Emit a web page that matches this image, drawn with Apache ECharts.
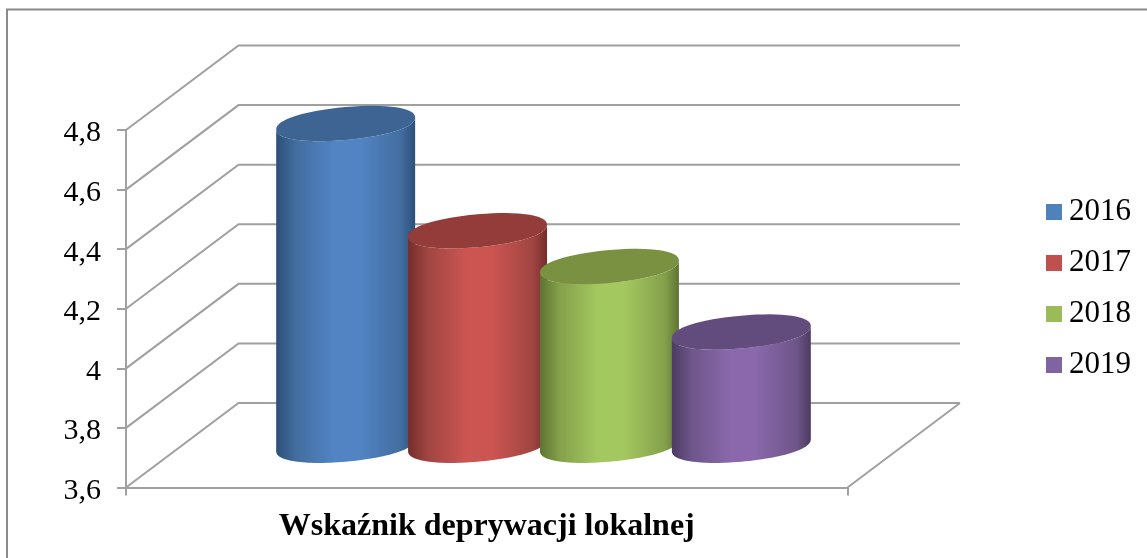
<!DOCTYPE html>
<html><head><meta charset="utf-8">
<style>html,body{margin:0;padding:0;background:#fff}#c{width:1147px;height:558px}</style>
<script src="https://cdn.jsdelivr.net/npm/echarts@6/dist/echarts.min.js"></script>
</head><body><div id="c"></div>
<script>
const categories = ['Wskaźnik deprywacji lokalnej'];
const years = ['2016', '2017', '2018', '2019'];
const values2016 = [4.68];
const values2017 = [4.32];
const values2018 = [4.20];
const values2019 = [3.98];
const allValues = [values2016, values2017, values2018, values2019];
const yTicks = [3.6, 3.8, 4.0, 4.2, 4.4, 4.6, 4.8];

const mainColors = ['#4f81bd', '#c0504d', '#9bbb59', '#8064a2'];
const brightColors = ['#5284c4', '#cc5551', '#a4c860', '#8a68ab'];
const midColors = ['#426d9f', '#a04542', '#84a04b', '#6d5589'];
const darkColors = ['#2d4f78', '#742d2b', '#5e7433', '#4c3b62'];
const topColors = ['#3d6492', '#933c39', '#799140', '#624c7e'];

const DEPTH_X = 112.5, DEPTH_Y = 84.5, GRID_COLOR = '#a0a0a0';

function spow(v, p) { return Math.sign(v) * Math.pow(Math.abs(v), p); }

function ellipsePts(cx, cy, a, b, s, from, to) {
  const pts = [], n = 64, p = 0.93;
  for (let i = 0; i <= n; i++) {
    const t = from + (to - from) * i / n;
    const c = spow(Math.cos(t), p), d = spow(Math.sin(t), p);
    pts.push([cx + a * c, cy + b * d - s * c]);
  }
  return pts;
}

function cylinder(i) {
  return function (params, api) {
    const band = api.size([1, 0])[0];
    const a = band * 0.0963, b = 16.4, s = 6;
    const top = api.coord([api.value(0), api.value(1)]);
    const base = api.coord([api.value(0), 3.6]);
    const cx = top[0] + DEPTH_X / 2 + 0.5 + (i - 1.5) * band * 0.1828;
    const topY = top[1] - DEPTH_Y / 2;
    const baseY = base[1] - DEPTH_Y / 2;
    const frontTop = ellipsePts(cx, topY, a, b, s, Math.PI, 0);
    const frontBase = ellipsePts(cx, baseY, a, b, s, 0, Math.PI);
    const fill = new echarts.graphic.LinearGradient(0, 0, 1, 0, [
      { offset: 0, color: darkColors[i] },
      { offset: 0.14, color: midColors[i] },
      { offset: 0.42, color: brightColors[i] },
      { offset: 0.6, color: brightColors[i] },
      { offset: 0.9, color: midColors[i] },
      { offset: 1, color: darkColors[i] }
    ]);
    return {
      type: 'group',
      children: [
        { type: 'polygon', shape: { points: frontTop.concat(frontBase) }, style: { fill: fill } },
        { type: 'polygon', shape: { points: ellipsePts(cx, topY, a, b, s, 0, Math.PI * 2) }, style: { fill: topColors[i] } }
      ]
    };
  };
}

function wallLines(params, api) {
  const band = api.size([1, 0])[0];
  const p = api.coord([0, api.value(0)]);
  const x0 = p[0] - band / 2, x1 = p[0] + band / 2, y = p[1];
  const line = { stroke: GRID_COLOR, lineWidth: 2, fill: null };
  const children = [{
    type: 'polyline',
    shape: { points: [[x0, y], [x0 + DEPTH_X, y - DEPTH_Y], [x1 + DEPTH_X, y - DEPTH_Y]] },
    style: line
  }];
  if (api.value(0) === yTicks[0]) {
    children.push({
      type: 'polyline',
      shape: { points: [[x1, y], [x1 + DEPTH_X, y - DEPTH_Y]] },
      style: line
    });
  }
  return { type: 'group', children: children };
}

const chart = echarts.init(document.getElementById('c'));
chart.setOption({
  animation: false,
  backgroundColor: '#fff',
  grid: { left: 126, right: 299.5, top: 130, bottom: 70.5, containLabel: false },
  graphic: [{
    type: 'polyline', silent: true,
    shape: { points: [[7, 558], [7, 9.5], [1147, 9.5]] },
    style: { stroke: '#8a8a8a', lineWidth: 2, fill: null }
  }],
  legend: {
    data: years, orient: 'vertical', left: 1041, top: 191.5,
    icon: 'rect', itemWidth: 16, itemHeight: 16, itemGap: 20,
    textStyle: { fontFamily: 'Liberation Serif', fontSize: 31, lineHeight: 31, color: '#000', padding: [0, 0, 0, 2] }
  },
  xAxis: {
    type: 'category', data: categories,
    axisLine: { lineStyle: { color: GRID_COLOR, width: 2 } },
    axisTick: { show: true, length: 8, lineStyle: { color: GRID_COLOR, width: 2 } },
    axisLabel: { fontFamily: 'Liberation Serif', fontWeight: 'bold', fontSize: 32, color: '#000', margin: 23 }
  },
  yAxis: {
    type: 'value', min: 3.6, max: 4.8, interval: 0.2,
    splitLine: { show: false },
    axisLine: { show: true, lineStyle: { color: GRID_COLOR, width: 2 } },
    axisTick: { show: true, length: 9, lineStyle: { color: GRID_COLOR, width: 2 } },
    axisLabel: {
      color: '#000', margin: 25,
      formatter: v => '{v|' + String(Math.round(v * 10) / 10).replace('.', ',') + '}',
      rich: { v: { fontFamily: 'Liberation Serif', fontSize: 30, color: '#000', lineHeight: 30, padding: [7, 0, 0, 0] } }
    }
  },
  series: [
    { type: 'custom', name: 'siatka', z: 1, silent: true, renderItem: wallLines, data: yTicks.map(v => [v]), encode: { y: 0 } }
  ].concat(years.map((y, i) => ({
    type: 'custom', name: y, z: 2 + i,
    itemStyle: { color: mainColors[i] },
    renderItem: cylinder(i),
    encode: { x: 0, y: 1 },
    data: allValues[i].map((v, k) => [k, v])
  })))
});
</script></body></html>
